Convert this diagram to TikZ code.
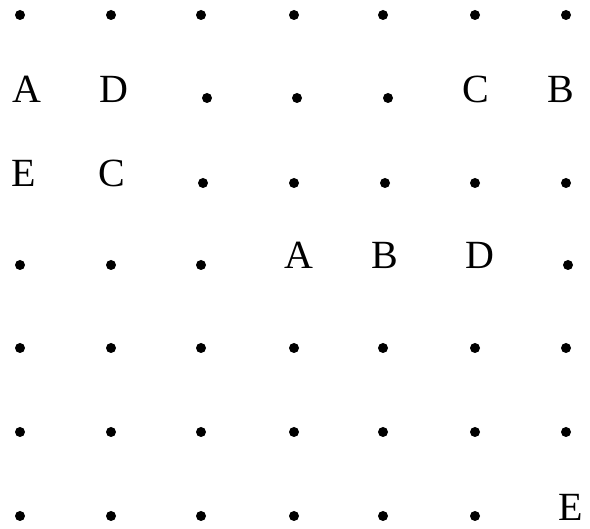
\documentclass[tikz,border=0pt]{standalone}
\usepackage{fontspec}
\setmainfont{Liberation Serif}
\begin{document}
\begin{tikzpicture}[x=1pt,y=-1pt,
  gdot/.style={circle,fill=black,inner sep=0pt,minimum size=10pt},
  glabel/.style={anchor=base,inner sep=0pt,font=\fontsize{40}{40}\selectfont}]
\useasboundingbox (0,0) rectangle (590,529);
% row 1
\foreach \x [count=\i] in {20,111,201,294,383,475,566} \node[gdot] (r1c\i) at (\x,15) {};
% row 2
\node[glabel] (r2A) at (27,103) {A};
\node[glabel] (r2D) at (114,103) {D};
\node[gdot] (r2c3) at (207,98) {};
\node[gdot] (r2c4) at (297,98) {};
\node[gdot] (r2c5) at (388,98) {};
\node[glabel] (r2C) at (476,103) {C};
\node[glabel] (r2B) at (561,103) {B};
% row 3
\node[glabel] (r3E) at (24,187) {E};
\node[glabel] (r3C) at (112,187) {C};
\foreach \x [count=\i from 3] in {203,294,385,475,566} \node[gdot] (r3c\i) at (\x,183) {};
% row 4
\foreach \x [count=\i] in {20,111,201} \node[gdot] (r4c\i) at (\x,265) {};
\node[glabel] (r4A) at (299,269) {A};
\node[glabel] (r4B) at (385,269) {B};
\node[glabel] (r4D) at (480,269) {D};
\node[gdot] (r4c7) at (568,265) {};
% rows 5 and 6
\foreach \x [count=\i] in {20,111,201,294,383,475,566} {
  \node[gdot] (r5c\i) at (\x,348) {};
  \node[gdot] (r6c\i) at (\x,432) {};
}
% row 7
\foreach \x [count=\i] in {20,111,201,294,383,475} \node[gdot] (r7c\i) at (\x,516) {};
\node[glabel] (r7E) at (571,521) {E};
\end{tikzpicture}
\end{document}
